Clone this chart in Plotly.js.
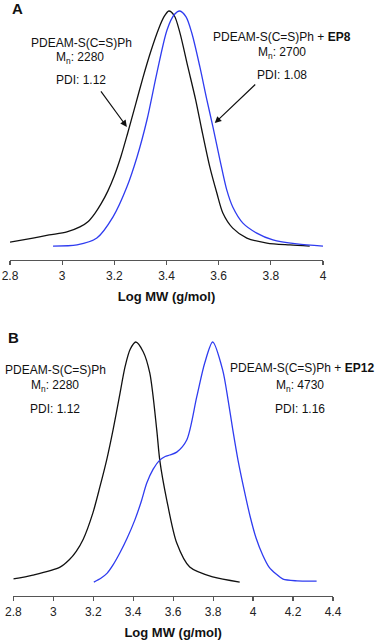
<!DOCTYPE html>
<html>
<head>
<meta charset="utf-8">
<script src="https://cdn.plot.ly/plotly-3.0.1.min.js"></script>
<style>html,body{margin:0;padding:0;background:#fff;}#chart{width:376px;height:644px;}</style>
</head>
<body>
<div id="chart"></div>
<script>
// Panel A: PDEAM-S(C=S)Ph (black) and PDEAM-S(C=S)Ph + EP8 (blue)
const aBlackX = [2.800, 2.888, 2.950, 3.018, 3.068, 3.100, 3.125, 3.150, 3.175, 3.200, 3.225, 3.250, 3.280, 3.310, 3.340, 3.370, 3.390, 3.409, 3.430, 3.451, 3.482, 3.512, 3.535, 3.566, 3.593, 3.616, 3.654, 3.708, 3.785, 3.873, 3.949];
const aBlackY = [0.025, 0.042, 0.055, 0.068, 0.089, 0.112, 0.145, 0.188, 0.240, 0.305, 0.385, 0.480, 0.600, 0.720, 0.830, 0.925, 0.975, 1.000, 0.980, 0.910, 0.764, 0.624, 0.500, 0.342, 0.232, 0.148, 0.084, 0.042, 0.021, 0.013, 0.008];
const aBlueX = [2.965, 3.057, 3.133, 3.195, 3.248, 3.287, 3.325, 3.363, 3.402, 3.430, 3.451, 3.475, 3.497, 3.528, 3.555, 3.578, 3.605, 3.631, 3.654, 3.693, 3.746, 3.808, 3.900, 4.000];
const aBlueY = [0.008, 0.013, 0.042, 0.131, 0.257, 0.384, 0.540, 0.738, 0.920, 0.985, 1.000, 0.975, 0.907, 0.764, 0.624, 0.511, 0.371, 0.245, 0.173, 0.105, 0.063, 0.034, 0.017, 0.008];

// Panel B: PDEAM-S(C=S)Ph (black) and PDEAM-S(C=S)Ph + EP12 (blue)
const bBlackX = [2.800, 2.898, 3.034, 3.080, 3.115, 3.150, 3.198, 3.233, 3.268, 3.300, 3.330, 3.360, 3.385, 3.413, 3.450, 3.483, 3.518, 3.533, 3.568, 3.618, 3.683, 3.798, 3.933];
const bBlackY = [0.021, 0.037, 0.070, 0.100, 0.135, 0.185, 0.293, 0.400, 0.515, 0.640, 0.770, 0.900, 0.970, 1.000, 0.960, 0.872, 0.636, 0.512, 0.347, 0.169, 0.070, 0.029, 0.008];
const bBlueX = [3.203, 3.240, 3.270, 3.300, 3.333, 3.370, 3.408, 3.440, 3.468, 3.500, 3.533, 3.560, 3.583, 3.618, 3.668, 3.718, 3.758, 3.798, 3.848, 3.875, 3.898, 3.925, 3.955, 3.985, 4.015, 4.048, 4.080, 4.117, 4.150, 4.220, 4.318];
const bBlueY = [0.008, 0.025, 0.045, 0.080, 0.128, 0.190, 0.264, 0.340, 0.417, 0.475, 0.512, 0.527, 0.533, 0.545, 0.595, 0.773, 0.913, 1.000, 0.884, 0.760, 0.640, 0.510, 0.390, 0.280, 0.190, 0.120, 0.070, 0.040, 0.020, 0.013, 0.012];

const aTicks = [2.8, 3, 3.2, 3.4, 3.6, 3.8, 4];
const bTicks = [2.8, 3, 3.2, 3.4, 3.6, 3.8, 4, 4.2, 4.4];
const xTitle = 'Log MW (g/mol)';

const black = '#111111';
const blue = '#2f3cf0';
const W = 376, H = 644;
const px = v => v / W;
const py = v => 1 - v / H;

const traces = [
  {x: aBlackX, y: aBlackY, xaxis: 'x', yaxis: 'y', mode: 'lines', line: {color: black, width: 1.3, shape: 'spline', smoothing: 0.8}, hoverinfo: 'skip'},
  {x: aBlueX, y: aBlueY, xaxis: 'x', yaxis: 'y', mode: 'lines', line: {color: blue, width: 1.3, shape: 'spline', smoothing: 0.8}, hoverinfo: 'skip'},
  {x: bBlackX, y: bBlackY, xaxis: 'x2', yaxis: 'y2', mode: 'lines', line: {color: black, width: 1.3, shape: 'spline', smoothing: 0.8}, hoverinfo: 'skip'},
  {x: bBlueX, y: bBlueY, xaxis: 'x2', yaxis: 'y2', mode: 'lines', line: {color: blue, width: 1.3, shape: 'spline', smoothing: 0.8}, hoverinfo: 'skip'}
];

const axFont = {family: 'Liberation Sans, Arial, sans-serif', size: 12, color: '#222'};
const titleFont = {family: 'Liberation Sans, Arial, sans-serif', size: 13, color: '#111'};

function xAxis(domain, range, ticks) {
  return {
    domain: domain, range: range, tickvals: ticks, ticktext: ticks.map(String),
    showline: true, linecolor: '#555', linewidth: 1.2,
    ticks: 'outside', ticklen: 4, tickcolor: '#555', tickwidth: 1.2,
    showgrid: false, zeroline: false, tickfont: axFont,
    title: {text: '<b>' + xTitle + '</b>', font: titleFont, standoff: 10},
    fixedrange: true
  };
}

const txt = (text, x, y, size) => ({
  text: text, xref: 'paper', yref: 'paper', x: px(x), y: py(y),
  xanchor: 'center', yanchor: 'middle', showarrow: false,
  font: {family: 'Liberation Sans, Arial, sans-serif', size: size || 12, color: '#111'}
});

const arrow = (xref, yref, x, y, ax, ay) => ({
  text: '', xref: xref, yref: yref, x: x, y: y, ax: ax, ay: ay,
  showarrow: true, arrowhead: 2, arrowsize: 1.1, arrowwidth: 1.2, arrowcolor: '#111'
});

const layout = {
  width: W, height: H,
  margin: {l: 0, r: 0, t: 0, b: 0},
  paper_bgcolor: '#fff', plot_bgcolor: '#fff',
  showlegend: false,
  xaxis: xAxis([px(10), px(323)], [2.8, 4.0], aTicks),
  yaxis: {domain: [py(260), py(5)], range: [-0.0506, 1.0253], visible: false, fixedrange: true},
  xaxis2: xAxis([px(13.3), px(333)], [2.8, 4.4], bTicks),
  yaxis2: {domain: [py(596), py(330)], range: [-0.0496, 1.0496], visible: false, fixedrange: true, anchor: 'x2'},
  annotations: [
    txt('<b>A</b>', 17, 8, 15),
    txt('PDEAM-S(C=S)Ph', 81, 43),
    txt('M<sub>n</sub>: 2280', 80, 58),
    txt('PDI: 1.12', 81, 80),
    txt('PDEAM-S(C=S)Ph + <b>EP8</b>', 282, 37),
    txt('M<sub>n</sub>: 2700', 282, 53),
    txt('PDI: 1.08', 282, 75),
    arrow('x', 'y', 3.248, 0.511, -27, -37),
    arrow('x', 'y', 3.585, 0.527, 42, -40),
    txt('<b>B</b>', 13, 337, 15),
    txt('PDEAM-S(C=S)Ph', 55, 370),
    txt('M<sub>n</sub>: 2280', 55, 386),
    txt('PDI: 1.12', 55, 409),
    txt('PDEAM-S(C=S)Ph + <b>EP12</b>', 302, 368),
    txt('M<sub>n</sub>: 4730', 300, 386),
    txt('PDI: 1.16', 300, 409)
  ]
};
layout.xaxis.anchor = 'y';
layout.xaxis2.anchor = 'y2';

Plotly.newPlot('chart', traces, layout, {displayModeBar: false, staticPlot: true});
</script>
</body>
</html>
